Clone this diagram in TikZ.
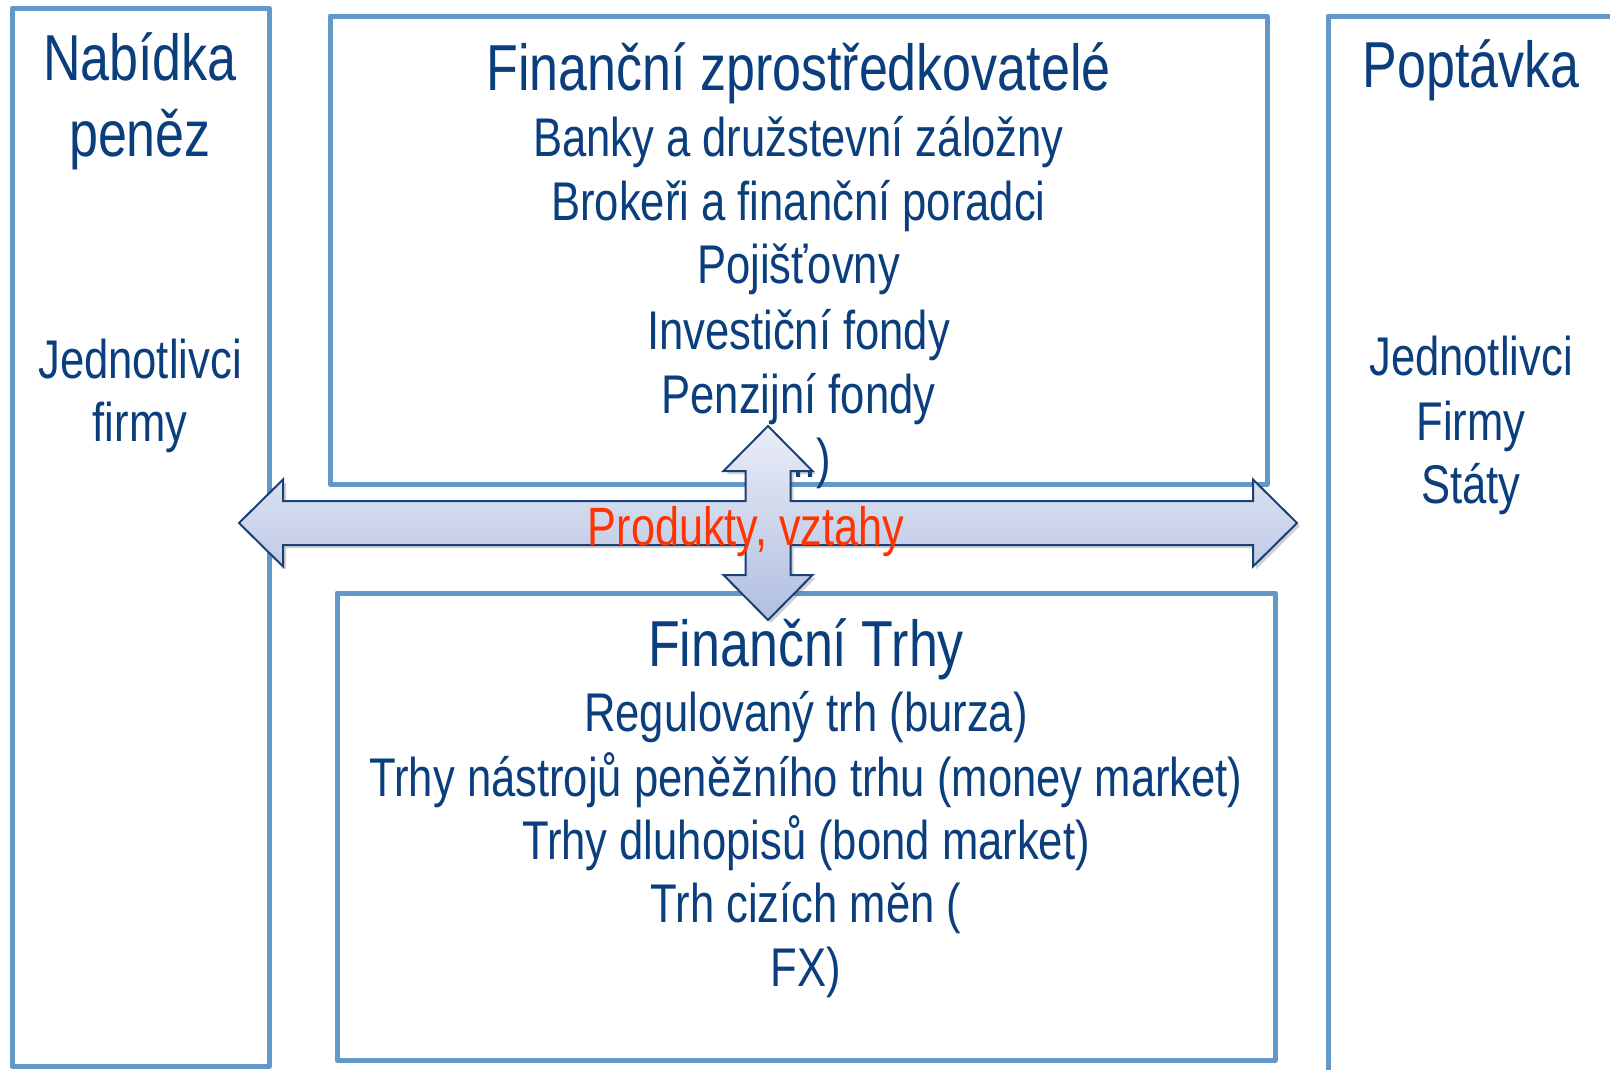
\documentclass[tikz,border=0pt]{standalone}
\usepackage{fontspec}
\setmainfont[FakeStretch=0.8]{Liberation Sans}
\usetikzlibrary{shadows}
\definecolor{boxblue}{RGB}{98,152,200}
\definecolor{txtblue}{RGB}{10,62,125}
\definecolor{redtxt}{RGB}{255,51,0}
\definecolor{arrline}{RGB}{25,65,120}
\definecolor{arrtop}{RGB}{234,237,247}
\definecolor{arrbot}{RGB}{176,190,224}
\tikzset{
  box/.style={draw=boxblue, line width=5pt, line join=round, inner sep=0pt, fill=none},
  ttl/.style={anchor=base, inner sep=0pt, text=txtblue, font=\fontsize{65}{70}\selectfont},
  itm/.style={anchor=base, inner sep=0pt, text=txtblue, font=\fontsize{54.5}{60}\selectfont},
  redlbl/.style={anchor=base, inner sep=0pt, text=redtxt, font=\fontsize{54}{60}\selectfont},
  quadarrow/.style={draw=arrline, line width=2pt, line join=miter, top color=arrtop, bottom color=arrbot,
    drop shadow={shadow xshift=3pt, shadow yshift=-3pt, opacity=0.3, fill=black!60}}
}
\begin{document}
\begin{tikzpicture}[x=1pt, y=-1pt]
\clip (0,0) rectangle (1610,1069);
\fill[white] (0,0) rectangle (1610,1069);
% boxes
\node[box, minimum width=257pt, minimum height=1058pt] (nab) at (140.5,537) {};
\node[box, minimum width=937pt, minimum height=468pt] (fz) at (798.5,250) {};
\node[box, minimum width=938pt, minimum height=467pt] (ft) at (806,826.5) {};
\node[box, minimum width=286pt, minimum height=1064pt] (pop) at (1471,548) {};
% left texts
\node[ttl] (n1) at (140,80) {Nabídka};
\node[ttl] (n2) at (140,156) {peněz};
\node[itm] (n3) at (140,378) {Jednotlivci};
\node[itm] (n4) at (140,441) {firmy};
% top middle texts
\node[ttl] (z1) at (798.5,90) {Finanční zprostředkovatelé};
\node[itm] (z2) at (798.5,156) {Banky a družstevní záložny};
\node[itm] (z3) at (798.5,220) {Brokeři a finanční poradci};
\node[itm] (z4) at (798.5,283) {Pojišťovny};
\node[itm] (z5) at (798.5,349) {Investiční fondy};
\node[itm] (z6) at (798.5,413) {Penzijní fondy};
\node[itm] (z7) at (798.5,477) {(...)};
% right texts
\node[ttl] (p1) at (1471,87) {Poptávka};
\node[itm] (p2) at (1471,375) {Jednotlivci};
\node[itm] (p3) at (1471,440) {Firmy};
\node[itm] (p4) at (1471,503) {Státy};
% bottom texts
\node[ttl] (m1) at (806,666) {Finanční Trhy};
\node[itm] (m2) at (806,731) {Regulovaný trh (burza)};
\node[itm] (m3) at (806,796) {Trhy nástrojů peněžního trhu (money market)};
\node[itm] (m4) at (806,859) {Trhy dluhopisů (bond market)};
\node[itm] (m5) at (806,922) {Trh cizích měn (};
\node[itm] (m6) at (806,986) {FX)};
% quad arrow
\path[quadarrow] (768,426) -- (812.5,471) -- (790.5,471) -- (790.5,501) -- (1253,501) -- (1253,479.5)
  -- (1297,523) -- (1253,566.5) -- (1253,545) -- (790.5,545) -- (790.5,575) -- (812.5,575)
  -- (768,620) -- (723.5,575) -- (745.5,575) -- (745.5,545) -- (283,545) -- (283,566.5)
  -- (239,523) -- (283,479.5) -- (283,501) -- (745.5,501) -- (745.5,471) -- (723.5,471) -- cycle;
\node[redlbl] (lbl) at (746,545) {Produkty, vztahy};
\end{tikzpicture}
\end{document}
